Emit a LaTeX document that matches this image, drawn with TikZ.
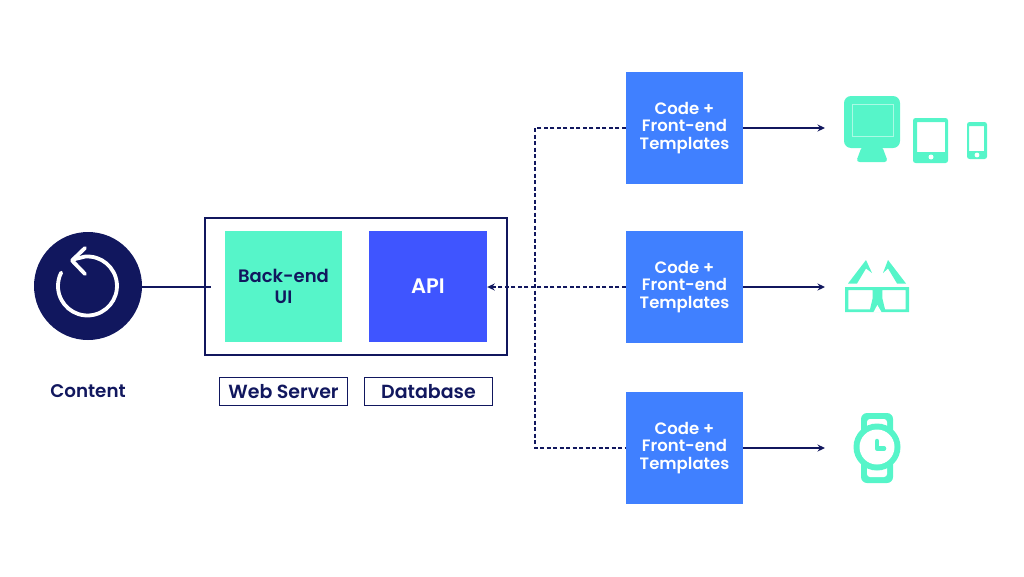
\documentclass[tikz,border=0pt]{standalone}
\usepackage{fontspec}
\usetikzlibrary{arrows.meta}
\setmainfont{Poppins}[BoldFont={Poppins SemiBold}]
\definecolor{navy}{HTML}{11175E}
\definecolor{mint}{HTML}{56F5C9}
\definecolor{apiblue}{HTML}{3F55FF}
\definecolor{tplblue}{HTML}{4080FF}
\begin{document}
\begin{tikzpicture}[x=1pt,y=-1pt,font=\bfseries]
\tikzstyle{tile} = [rectangle, minimum width=117pt, minimum height=111pt, inner sep=0pt, text centered]
\tikzstyle{template} = [tile, minimum height=112pt, fill=tplblue, text=white, align=center, font=\bfseries\fontsize{16.5}{17.5}\selectfont]
\tikzstyle{caption} = [rectangle, draw=navy, line width=1.8pt, text=navy, minimum width=128pt, minimum height=28pt, inner sep=0pt, font=\bfseries\fontsize{19}{20}\selectfont]
\tikzstyle{arrow} = [-{Stealth[length=7.5pt,width=7pt]},navy,line width=1.7pt]
\tikzstyle{busline} = [navy,line width=1.7pt,dash pattern=on 4pt off 2.5pt]
\tikzstyle{icon} = [fill=mint,draw=none]

\useasboundingbox (0,0) rectangle (1024,576);

\node (ContentCircle) [circle, fill=navy, minimum size=108pt, inner sep=0pt] at (88,286) {};
\node (ContentLabel) [text=navy, font=\bfseries\fontsize{18.3}{20}\selectfont] at (88,391) {Content};

\node (BackEnd) [tile, fill=mint, text=navy, align=center, font=\bfseries\fontsize{18}{20.5}\selectfont] at (283.5,286.5) {Back-end\\UI};
\node (Api) [tile, minimum width=118pt, fill=apiblue, text=white, font=\bfseries\fontsize{21}{21}\selectfont, right of=BackEnd, node distance=144.5pt] {API};
\node (Server) [rectangle, draw=navy, line width=1.8pt, minimum width=302pt, minimum height=137pt] at (356,286.5) {};
\coordinate (ServerStub) at (211,287);

\node (WebServer) [caption] at (283.5,391.5) {Web Server};
\node (Database) [caption, right of=WebServer, node distance=145pt] {Database};

\node (TemplatesTop) [template] at (684.5,128) {Code +\\Front-end\\Templates};
\node (TemplatesMiddle) [template, below of=TemplatesTop, node distance=159pt] {Code +\\Front-end\\Templates};
\node (TemplatesBottom) [template, below of=TemplatesMiddle, node distance=161pt] {Code +\\Front-end\\Templates};

\coordinate (ScreensEnd) at (825,128);
\coordinate (GlassesEnd) at (825,287);
\coordinate (WatchEnd) at (825,448);
\coordinate (BusTop) at (535,128);
\coordinate (BusBottom) at (535,448);

\draw [navy, line width=2.2pt] (ContentCircle.east |- ServerStub) -- (ServerStub);
\draw [arrow, dash pattern=on 4pt off 2.5pt] (TemplatesMiddle) -- (Api.east |- TemplatesMiddle);
\draw [busline] (TemplatesTop) -- (BusTop) -- (BusBottom) -- (TemplatesBottom);
\draw [arrow] (TemplatesTop) -- (ScreensEnd);
\draw [arrow] (TemplatesMiddle) -- (GlassesEnd);
\draw [arrow] (TemplatesBottom) -- (WatchEnd);

% restart icon
\draw [white, line width=3.8pt, line cap=round, line join=round] (73,259.5) -- (84.9,256.6) arc (-95:207:29.5);
\draw [white, line width=3.8pt, line cap=round, line join=round] (85,248) -- (72,260.5) -- (85,274);

% monitor
\fill [icon, rounded corners=7pt] (844,96) rectangle (900,148);
\fill [icon, rounded corners=3.5pt] (862,146) -- (882,146) -- (888,162) -- (856,162) -- cycle;
\draw [white, opacity=0.5, line width=0.7pt] (852,104) rectangle (893,136);
% tablet
\fill [icon, rounded corners=2.5pt, even odd rule] (913,118) rectangle (948,163) (917,122) [sharp corners] rectangle (945,152);
\fill [white] (931,157) circle (2.5);
% phone
\fill [icon, rounded corners=2.5pt, even odd rule] (967,122) rectangle (987,159) (969,126) [sharp corners] rectangle (984,151);
\fill [white] (977,155) circle (2.4);

% glasses
\fill [icon, even odd rule] (845,287) rectangle (909,312)
  (848.3,290) -- (872.7,290) -- (872.7,298) -- (870,309.3) -- (848.3,309.3) -- cycle
  (882.3,290) -- (905.7,290) -- (905.7,309.3) -- (885,309.3) -- (882.3,298) -- cycle;
\fill [white] (877.3,305) -- (881.7,312.5) -- (873.3,312.5) -- cycle;
\fill [icon] (848,283.5) -- (866,260) -- (872,273) -- (866,268.5) -- (857,283.5) -- cycle;
\fill [icon] (906,283.5) -- (888,260) -- (883,273) -- (888,268.5) -- (897,283.5) -- cycle;

% watch
\fill [icon, rounded corners=6pt] (861,413) rectangle (893,483);
\fill [white, rounded corners=3pt] (867,419) rectangle (887,477);
\fill [icon] (877,447) circle (23.5);
\fill [white] (877,447) circle (17.5);
\draw [mint, line width=4.5pt, line cap=round, line join=round] (877,441) -- (877,448.5) -- (884,448.5);
\end{tikzpicture}
\end{document}
